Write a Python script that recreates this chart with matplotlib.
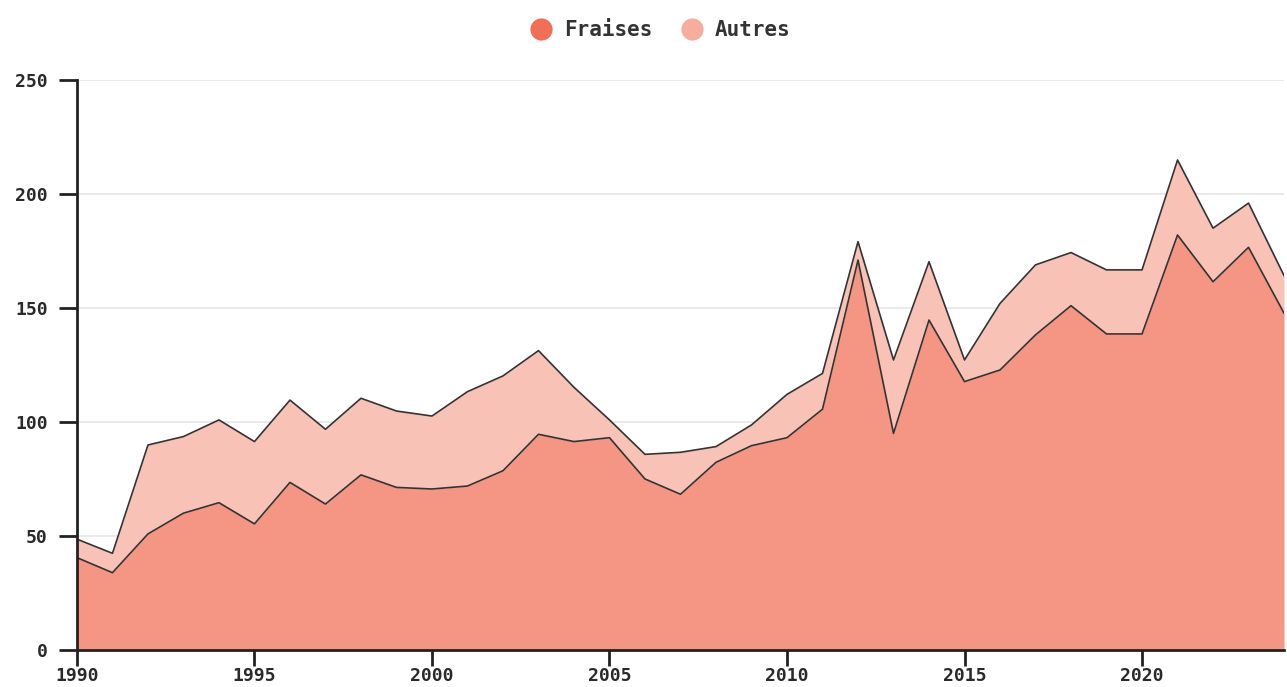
import matplotlib
matplotlib.use("Agg")
import matplotlib.pyplot as plt
from matplotlib.lines import Line2D
import numpy as np

# Data
years = list(range(1990, 2025))
fraises = [40.5, 33.9, 50.9, 60.0, 64.6, 55.3, 73.5, 64.0, 76.8, 71.3,
           70.6, 71.9, 78.6, 94.6, 91.4, 93.1, 75.0, 68.3, 82.3, 89.6,
           93.1, 105.6, 171.0, 95.0, 144.7, 117.7, 122.8, 138.2, 151.0, 138.6,
           138.6, 182.0, 161.5, 176.6, 147.7]
totals = [48.6, 42.4, 89.9, 93.6, 100.9, 91.4, 109.6, 96.8, 110.4, 104.8,
          102.6, 113.3, 120.2, 131.3, 115.2, 100.9, 85.8, 86.7, 89.2, 98.7,
          112.1, 121.3, 179.1, 127.2, 170.3, 127.2, 152.0, 168.9, 174.3, 166.7,
          166.7, 214.9, 185.0, 196.0, 164.2]
autres = [t - f for t, f in zip(totals, fraises)]
series_labels = ["Fraises", "Autres"]

plt.rcParams["font.family"] = "DejaVu Sans Mono"
plt.rcParams["font.weight"] = "bold"

fig = plt.figure(figsize=(12.87, 6.87), dpi=100)
ax = fig.add_axes([0.0598, 0.0539, 0.9379, 0.8297])

x = np.array(years)
f = np.array(fraises)
top = f + np.array(autres)

ax.fill_between(x, 0, f, color="#f59583", linewidth=0, zorder=2)
ax.fill_between(x, f, top, color="#f8c2b6", linewidth=0, zorder=2)
ax.plot(x, f, color="#333333", linewidth=1.2, zorder=3)
ax.plot(x, top, color="#333333", linewidth=1.2, zorder=3)

ax.set_xlim(1990, 2024)
ax.set_ylim(0, 250)
ax.set_xticks(range(1990, 2021, 5))
ax.set_yticks(range(0, 251, 50))
ax.yaxis.grid(True, color="#e6e6e6", linewidth=1.2, zorder=0)
ax.set_axisbelow(True)

for s in ["top", "right"]:
    ax.spines[s].set_visible(False)
for s in ["left", "bottom"]:
    ax.spines[s].set_linewidth(2)
    ax.spines[s].set_color("#222222")
    ax.spines[s].set_zorder(4)
ax.tick_params(axis="both", width=2, color="#222222",
               labelsize=13, labelcolor="#2a2a2a")
ax.tick_params(axis="y", length=13, pad=8)
ax.tick_params(axis="x", length=11.5, pad=1)

handles = [
    Line2D([], [], marker="o", linestyle="none", markersize=16,
           markerfacecolor="#f26f57", markeredgecolor="none"),
    Line2D([], [], marker="o", linestyle="none", markersize=16,
           markerfacecolor="#f7ad9d", markeredgecolor="none"),
]
fig.legend(handles, series_labels, loc="center", bbox_to_anchor=(0.509, 0.956),
           ncol=2, frameon=False, fontsize=15, handletextpad=0.1,
           columnspacing=0.9, labelcolor="#333333")

fig.savefig("out.png", dpi=100)
